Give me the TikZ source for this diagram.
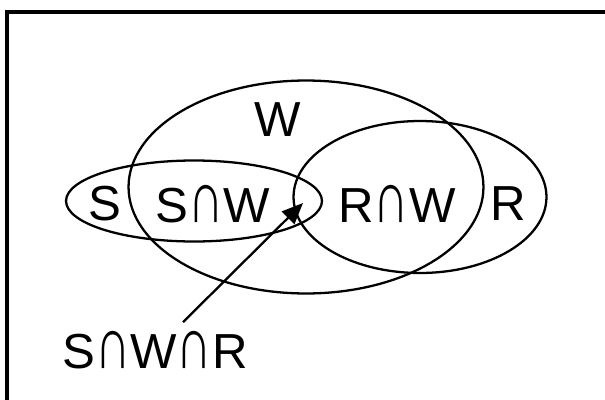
\documentclass[tikz,border=0pt]{standalone}
\usepackage{graphicx}
\usepackage{fontspec}
\setmainfont{Liberation Sans}
\usetikzlibrary{positioning, arrows.meta, shapes.geometric}

% tall intersection sign as in the figure
\newcommand{\capsign}{\scalebox{1.0}[1.5]{∩}}

\begin{document}
\begin{tikzpicture}[x=0.02cm, y=-0.02cm,
        set/.style={ellipse, draw, line width=1.3pt, inner sep=0pt},
        tag/.style={font=\fontsize{28}{30}\selectfont, inner sep=0pt},
        pointer/.style={-{Triangle[length=12pt, width=10pt]}, line width=1.3pt, shorten <=7pt},
        frame/.style={draw, line width=1.8pt}
    ]
        \clip (0,0) rectangle (605,399);

        % Frame (runs off at the right and bottom)
        \draw[frame] (7,12) rectangle (640,440);

        % Sets
        \node[set, minimum width=7.1cm, minimum height=4.26cm] (w_set) at (306,187) {};
        \node[set, minimum width=5.12cm, minimum height=1.62cm] (s_set) at (194,201) {};
        \node[set, minimum width=5.06cm, minimum height=3.04cm] (r_set) at (420,197) {};

        % Region labels
        \node[tag] (w_label) at (278,120) {W};
        \foreach \name/\x/\txt in {s/105/S, sw/213/S\capsign W, rw/397/R\capsign W, r/508/R} {
            \node[tag] (\name_label) at (\x,204) {\txt};
        }

        % Triple intersection
        \node[tag] (swr_label) at (155,350) {S\capsign W\capsign R};
        \coordinate (swr_point) at (303,203);
        \draw[pointer] (swr_label) -- (swr_point);
    \end{tikzpicture}
\end{document}
